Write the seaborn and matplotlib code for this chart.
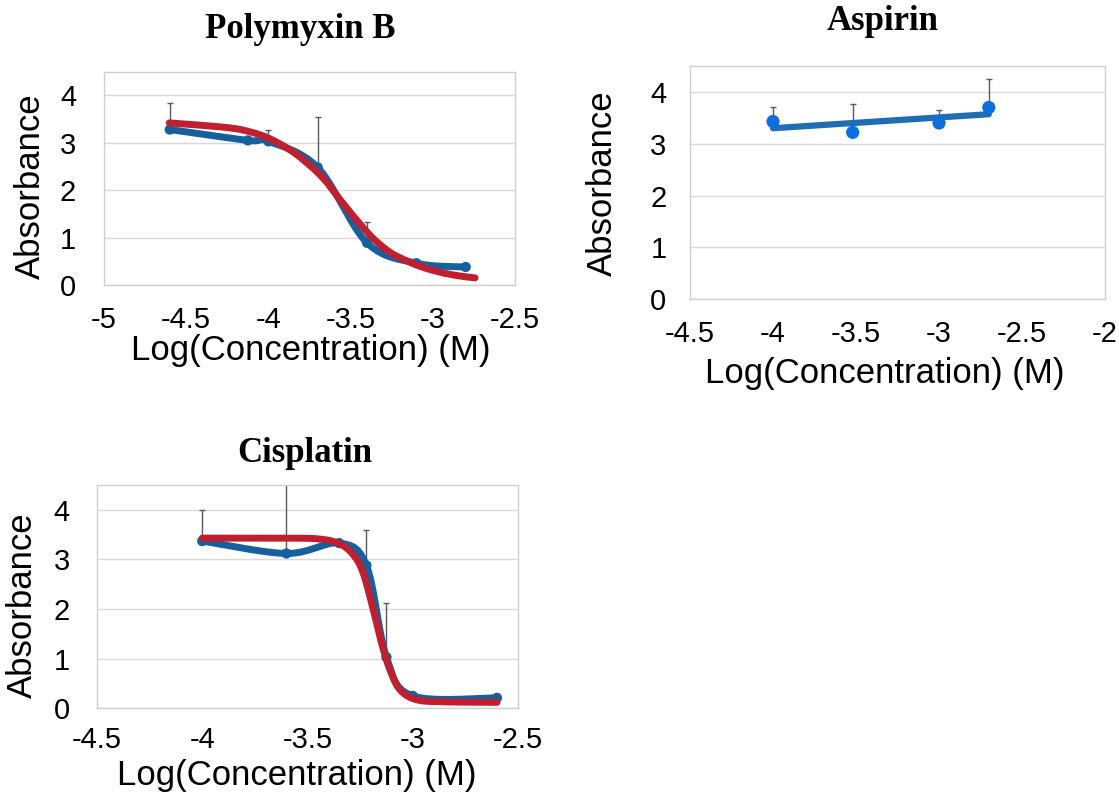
import numpy as np
import matplotlib
matplotlib.use("Agg")
import matplotlib.pyplot as plt
import seaborn as sns

# ---------------- data ----------------
# Polymyxin B
poly_x = [-4.60, -4.125, -4.00, -3.70, -3.40, -3.10, -2.80]
poly_y = [3.28, 3.05, 3.03, 2.48, 0.89, 0.46, 0.38]
poly_err = [0.56, 0.0, 0.25, 1.06, 0.44, 0.0, 0.0]
poly_fit_x = [-4.603, -4.274, -4.132, -4.000, -3.869, -3.767, -3.666, -3.564,
              -3.463, -3.362, -3.260, -3.159, -3.058, -2.956, -2.855, -2.743]
poly_fit_y = [3.42, 3.33, 3.25, 3.10, 2.85, 2.58, 2.25, 1.80,
              1.37, 0.98, 0.69, 0.51, 0.37, 0.27, 0.20, 0.15]

# Aspirin
asp_x = [-4.00, -3.52, -3.00, -2.70]
asp_y = [3.43, 3.22, 3.40, 3.70]
asp_err = [0.28, 0.55, 0.26, 0.55]
asp_trend_x = [-4.00, -2.70]
asp_trend_y = [3.30, 3.57]

# Cisplatin
cis_x = [-4.00, -3.60, -3.35, -3.22, -3.125, -3.00, -2.60]
cis_y = [3.37, 3.12, 3.33, 2.88, 1.03, 0.25, 0.21]
cis_err = [0.62, 1.60, 0.0, 0.71, 1.09, 0.0, 0.0]
cis_fit_x = [-4.00, -3.60, -3.44, -3.345, -3.28, -3.235, -3.187, -3.148,
             -3.108, -3.06, -2.98, -2.84, -2.60]
cis_fit_y = [3.43, 3.43, 3.41, 3.31, 3.08, 2.72, 1.98, 1.31,
             0.77, 0.37, 0.17, 0.13, 0.12]

titles = ["Polymyxin B", "Aspirin", "Cisplatin"]
poly_xticks = [-5, -4.5, -4, -3.5, -3, -2.5]
asp_xticks = [-4.5, -4, -3.5, -3, -2.5, -2]
cis_xticks = [-4.5, -4, -3.5, -3, -2.5]
y_ticks = [0, 1, 2, 3, 4]
x_label = "Log(Concentration) (M)"
y_label = "Absorbance"

# ---------------- style ----------------
sns.set_theme(style="white")
plt.rcParams["font.family"] = ["Liberation Sans", "DejaVu Sans"]
plt.rcParams["axes.unicode_minus"] = False
plt.rcParams["text.color"] = "black"
plt.rcParams["axes.labelcolor"] = "black"
plt.rcParams["xtick.color"] = "black"
plt.rcParams["ytick.color"] = "black"

BLUE = "#17609e"
RED = "#c01f30"
ASP_LINE = "#1f6db2"
ASP_MARK = "#0b6fdf"
ERR = "#5a5a5a"
GRID = "#d9d9d9"
FRAME = "#cfcfcf"


def smooth(xs, ys, n=40):
    """Excel-like smoothed line (Catmull-Rom Bezier) through given points."""
    P = np.column_stack([xs, ys]).astype(float)
    out = []
    t = np.linspace(0, 1, n)[:, None]
    for i in range(len(P) - 1):
        p0 = P[i - 1] if i > 0 else P[i]
        p1, p2 = P[i], P[i + 1]
        p3 = P[i + 2] if i + 2 < len(P) else P[i + 1]
        c1 = p1 + (p2 - p0) / 6.0
        c2 = p2 - (p3 - p1) / 6.0
        B = ((1 - t) ** 3) * p1 + 3 * ((1 - t) ** 2) * t * c1 + 3 * (1 - t) * t ** 2 * c2 + t ** 3 * p2
        out.append(B if i == len(P) - 2 else B[:-1])
    B = np.vstack(out)
    return B[:, 0], B[:, 1]


fig = plt.figure(figsize=(11.19, 7.95), dpi=100)
W, H = 1119, 795


def make_ax(left, right, top, bottom):
    return fig.add_axes([left / W, (H - bottom) / H, (right - left) / W, (bottom - top) / H])


def style_ax(ax, xlim, xticks, xpad, ypad):
    ax.set_xlim(*xlim)
    ax.set_ylim(0, 4.5)
    ax.set_xticks(xticks)
    ax.set_xticklabels([f"{v:g}" for v in xticks])
    ax.set_yticks(y_ticks)
    ax.set_yticklabels([f"{v:g}" for v in y_ticks])
    ax.yaxis.grid(True, color=GRID, linewidth=1.0, zorder=0)
    ax.xaxis.grid(False)
    for s in ax.spines.values():
        s.set_visible(True)
        s.set_color(FRAME)
        s.set_linewidth(1.0)
    ax.tick_params(axis="x", length=0, pad=xpad, labelsize=21, colors="black")
    ax.tick_params(axis="y", length=0, pad=ypad, labelsize=21, colors="black")
    ax.set_facecolor("white")
    ax.set_axisbelow(True)


def draw_err(ax, x, y, err):
    ax.errorbar(x, y, yerr=[np.zeros(len(err)), err], fmt="none", ecolor=ERR,
                elinewidth=1.0, capsize=2.5, capthick=1.0, zorder=2)


# ---------------- Polymyxin B ----------------
ax1 = make_ax(104, 515, 71.7, 285)
style_ax(ax1, (-5, -2.5), poly_xticks, 15, 20)
draw_err(ax1, poly_x, poly_y, poly_err)
sx, sy = smooth(poly_x, poly_y)
sns.lineplot(x=sx, y=sy, sort=False, estimator=None, ax=ax1, color=BLUE, linewidth=5, zorder=3)
sns.scatterplot(x=poly_x, y=poly_y, ax=ax1, color=BLUE, s=55, edgecolor="none", zorder=4)
fx, fy = smooth(poly_fit_x, poly_fit_y)
sns.lineplot(x=fx, y=fy, sort=False, estimator=None, ax=ax1, color=RED, linewidth=5,
             zorder=5, solid_capstyle="round")

# ---------------- Aspirin ----------------
ax2 = make_ax(690, 1105, 66, 299.3)
style_ax(ax2, (-4.5, -2), asp_xticks, 15, 17)
draw_err(ax2, asp_x, asp_y, asp_err)
sns.lineplot(x=asp_trend_x, y=asp_trend_y, sort=False, estimator=None, ax=ax2,
             color=ASP_LINE, linewidth=4.5, zorder=3)
sns.scatterplot(x=asp_x, y=asp_y, ax=ax2, color=ASP_MARK, s=90, edgecolor="none", zorder=4)

# ---------------- Cisplatin ----------------
ax3 = make_ax(97, 518, 485, 708.3)
style_ax(ax3, (-4.5, -2.5), cis_xticks, 13, 19.5)
draw_err(ax3, cis_x, cis_y, cis_err)
sx, sy = smooth(cis_x, cis_y)
sns.lineplot(x=sx, y=sy, sort=False, estimator=None, ax=ax3, color=BLUE, linewidth=5, zorder=3)
sns.scatterplot(x=cis_x, y=cis_y, ax=ax3, color=BLUE, s=55, edgecolor="none", zorder=4)
fx, fy = smooth(cis_fit_x, cis_fit_y)
sns.lineplot(x=fx, y=fy, sort=False, estimator=None, ax=ax3, color=RED, linewidth=5,
             zorder=5, solid_capstyle="round")

# ---------------- labels & titles ----------------
label_pos = {
    ax1: ((0.504, -0.305), (-0.178, 0.461)),
    ax2: ((0.47, -0.316), (-0.210, 0.498)),
    ax3: ((0.475, -0.299), (-0.178, 0.463)),
}
for ax, ((xlx, xly), (ylx, yly)) in label_pos.items():
    ax.set_xlabel(x_label, fontsize=25, va="center", color="black")
    ax.set_ylabel(y_label, fontsize=25, va="center", color="black")
    ax.xaxis.set_label_coords(xlx, xly)
    ax.yaxis.set_label_coords(ylx, yly)

title_pos = [(300, 30), (883, 22), (305, 453)]
for t, (px, py) in zip(titles, title_pos):
    fig.text(px / W, 1 - py / H, t, ha="center", va="center", fontsize=25,
             fontweight="bold", color="black", family=["Liberation Serif", "DejaVu Serif"])

fig.savefig("out.png", dpi=100, facecolor="white")
